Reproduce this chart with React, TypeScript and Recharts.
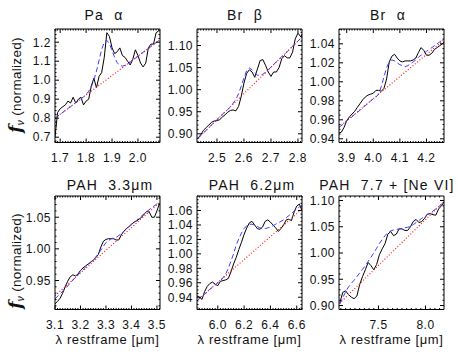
import React from 'react';
import { LineChart, Line, XAxis, YAxis } from 'recharts';

// ---------------- Pa alpha ----------------
const paWave = [1.68,1.69,1.70,1.71,1.72,1.73,1.74,1.75,1.76,1.77,1.78,1.79,1.80,1.81,1.82,1.83,1.84,1.85,1.86,1.87,1.88,1.89,1.90,1.91,1.92,1.93,1.94,1.95,1.96,1.97,1.98,1.99,2.00,2.01,2.02,2.03,2.04,2.05,2.06,2.07,2.08];
const paFlux = [0.70,0.83,0.85,0.86,0.87,0.89,0.88,0.91,0.88,0.90,0.91,0.87,0.89,0.90,0.97,1.01,0.96,1.02,1.04,1.12,1.25,1.23,1.17,1.14,1.15,1.17,1.13,1.12,1.10,1.08,1.11,1.16,1.13,1.09,1.07,1.09,1.17,1.19,1.19,1.25,1.26];
const paModel = [0.800,0.810,0.820,0.831,0.841,0.851,0.861,0.871,0.882,0.892,0.902,0.912,0.925,0.942,0.965,1.000,1.048,1.105,1.162,1.200,1.210,1.192,1.156,1.120,1.092,1.077,1.074,1.078,1.086,1.096,1.106,1.116,1.126,1.137,1.147,1.157,1.167,1.177,1.188,1.198,1.208];
const paContWave = [1.68, 2.085];
const paCont = [0.800, 1.213];

// ---------------- Br beta ----------------
const bbWave = [2.43,2.44,2.45,2.46,2.47,2.48,2.49,2.50,2.51,2.52,2.53,2.54,2.55,2.56,2.57,2.58,2.59,2.60,2.61,2.62,2.63,2.64,2.65,2.66,2.67,2.68,2.69,2.70,2.71,2.72,2.73,2.74,2.75,2.76,2.77,2.78,2.79,2.80,2.81,2.82];
const bbFlux = [0.890,0.898,0.908,0.914,0.920,0.926,0.929,0.930,0.932,0.938,0.943,0.949,0.953,0.954,0.952,0.962,0.985,1.015,1.037,1.045,1.040,1.028,1.047,1.066,1.068,1.055,1.040,1.030,1.040,1.040,1.050,1.070,1.077,1.072,1.072,1.085,1.115,1.128,1.120,1.130];
const bbModel = [0.890,0.896,0.902,0.908,0.914,0.920,0.926,0.932,0.938,0.944,0.950,0.955,0.961,0.969,0.978,0.991,1.008,1.027,1.043,1.049,1.045,1.038,1.033,1.032,1.035,1.039,1.045,1.051,1.057,1.063,1.069,1.075,1.080,1.086,1.092,1.098,1.104,1.110,1.116,1.122];
const bbContWave = [2.43, 2.82];
const bbCont = [0.890, 1.122];

// ---------------- Br alpha ----------------
const baWave = [3.87,3.88,3.89,3.90,3.91,3.92,3.93,3.94,3.95,3.96,3.97,3.98,3.99,4.00,4.01,4.02,4.03,4.04,4.05,4.06,4.07,4.08,4.09,4.10,4.11,4.12,4.13,4.14,4.15,4.16,4.17,4.18,4.19,4.20,4.21,4.22,4.23,4.24,4.25,4.26,4.27];
const baFlux = [0.946,0.947,0.952,0.959,0.963,0.966,0.969,0.973,0.977,0.981,0.984,0.986,0.987,0.988,0.991,0.991,0.990,0.993,1.003,1.021,1.027,1.029,1.025,1.022,1.021,1.022,1.022,1.022,1.023,1.025,1.031,1.036,1.033,1.028,1.028,1.030,1.034,1.036,1.038,1.040,1.043];
const baModel = [0.952,0.954,0.956,0.959,0.961,0.963,0.966,0.968,0.970,0.973,0.975,0.977,0.980,0.982,0.984,0.987,0.995,1.005,1.015,1.021,1.023,1.022,1.020,1.018,1.017,1.016,1.017,1.019,1.021,1.023,1.026,1.028,1.030,1.032,1.034,1.036,1.038,1.040,1.042,1.044,1.046];
const baContWave = [3.87, 4.27];
const baCont = [0.952, 1.045];

// ---------------- PAH 3.3 ----------------
const p33Wave = [3.10,3.11,3.12,3.13,3.14,3.15,3.16,3.17,3.18,3.19,3.20,3.21,3.22,3.23,3.24,3.25,3.26,3.27,3.28,3.29,3.30,3.31,3.32,3.33,3.34,3.35,3.36,3.37,3.38,3.39,3.40,3.41,3.42,3.43,3.44,3.45,3.46,3.47,3.48,3.49,3.50,3.51];
const p33Flux = [0.913,0.917,0.922,0.930,0.940,0.949,0.956,0.959,0.957,0.960,0.966,0.970,0.973,0.976,0.979,0.982,0.986,0.991,1.003,1.012,1.015,1.016,1.016,1.016,1.014,1.014,1.022,1.028,1.032,1.035,1.039,1.042,1.044,1.047,1.050,1.055,1.059,1.058,1.050,1.050,1.060,1.072];
const p33ModelWave = [3.10,3.12,3.14,3.16,3.18,3.20,3.22,3.24,3.26,3.28,3.30,3.32,3.34,3.36,3.38,3.40,3.42,3.44,3.46,3.48,3.50,3.51];
const p33Model = [0.921,0.929,0.937,0.946,0.955,0.963,0.971,0.979,0.987,0.998,1.010,1.016,1.018,1.024,1.031,1.038,1.045,1.052,1.059,1.065,1.071,1.075];
const p33ContWave = [3.10, 3.51];
const p33Cont = [0.926, 1.073];

// ---------------- PAH 6.2 ----------------
const p62Wave = [5.84,5.86,5.88,5.90,5.92,5.94,5.96,5.98,6.00,6.02,6.04,6.06,6.08,6.10,6.12,6.14,6.16,6.18,6.20,6.22,6.24,6.26,6.28,6.30,6.32,6.34,6.36,6.38,6.40,6.42,6.44,6.46,6.48,6.50,6.52,6.54,6.56,6.58,6.60,6.62,6.64];
const p62Flux = [0.942,0.940,0.937,0.948,0.955,0.959,0.961,0.958,0.956,0.962,0.963,0.964,0.966,0.975,0.986,0.995,1.006,1.016,1.027,1.036,1.043,1.045,1.040,1.035,1.034,1.037,1.045,1.047,1.044,1.040,1.036,1.031,1.035,1.040,1.047,1.048,1.046,1.058,1.066,1.069,1.060];
const p62Model = [0.935,0.938,0.941,0.944,0.948,0.951,0.954,0.957,0.960,0.963,0.967,0.972,0.980,0.990,1.000,1.012,1.021,1.029,1.035,1.039,1.041,1.041,1.040,1.038,1.036,1.035,1.035,1.036,1.037,1.039,1.041,1.043,1.045,1.047,1.050,1.053,1.056,1.059,1.062,1.065,1.067];
const p62ContWave = [5.84, 6.64];
const p62Cont = [0.935, 1.062];

// ---------------- PAH 7.7 + [Ne VI] ----------------
const p77Wave = [7.09,7.12,7.15,7.18,7.21,7.24,7.27,7.30,7.33,7.36,7.39,7.42,7.45,7.48,7.51,7.54,7.57,7.60,7.63,7.66,7.69,7.72,7.75,7.78,7.81,7.84,7.87,7.90,7.93,7.96,7.99,8.02,8.05,8.08,8.11,8.14,8.17,8.20];
const p77Flux = [0.906,0.925,0.928,0.921,0.916,0.913,0.918,0.940,0.955,0.968,0.982,0.976,0.968,0.978,0.997,1.008,1.018,1.036,1.041,1.033,1.036,1.046,1.046,1.043,1.043,1.050,1.060,1.064,1.058,1.060,1.066,1.074,1.075,1.073,1.072,1.084,1.090,1.098];
const p77Model = [0.903,0.915,0.926,0.935,0.942,0.948,0.955,0.962,0.969,0.976,0.984,0.992,1.000,1.009,1.018,1.026,1.033,1.039,1.042,1.044,1.045,1.046,1.047,1.048,1.049,1.051,1.054,1.058,1.062,1.066,1.069,1.073,1.076,1.080,1.084,1.088,1.093,1.097];
const p77ContWave = [7.085, 8.197];
const p77Cont = [0.904, 1.098];

// ---------------- titles & tick labels ----------------
const titles = ['Pa  α', 'Br  β', 'Br  α', 'PAH  3.3μm', 'PAH  6.2μm', 'PAH  7.7 + [Ne VI]'];
const paXTicks = [1.7, 1.8, 1.9, 2.0];
const paYTicks = [0.7, 0.8, 0.9, 1.0, 1.1, 1.2];
const bbXTicks = [2.5, 2.6, 2.7, 2.8];
const bbYTicks = [0.90, 0.95, 1.00, 1.05, 1.10];
const baXTicks = [3.9, 4.0, 4.1, 4.2];
const baYTicks = [0.94, 0.96, 0.98, 1.00, 1.02, 1.04];
const p33XTicks = [3.1, 3.2, 3.3, 3.4, 3.5];
const p33YTicks = [0.95, 1.00, 1.05];
const p62XTicks = [6.0, 6.2, 6.4, 6.6];
const p62YTicks = [0.94, 0.96, 0.98, 1.00, 1.02, 1.04, 1.06];
const p77XTicks = [7.5, 8.0];
const p77YTicks = [0.90, 0.95, 1.00, 1.05, 1.10];

const FONT = '"Liberation Sans", Arial, Helvetica, sans-serif';
const TM = 4;

function pairs(xs: number[], ys: number[]) {
  return xs.map((x, i) => ({ x, y: ys[i] }));
}

function minorTicks(dom: number[], step: number): number[] {
  const out: number[] = [];
  const start = Math.ceil(dom[0] / step - 1e-6);
  const end = Math.floor(dom[1] / step + 1e-6);
  for (let k = start; k <= end; k++) out.push(Math.round(k * step * 1e6) / 1e6);
  return out;
}

function isMajor(v: number, majors: number[]) {
  return majors.some((m) => Math.abs(m - v) < 1e-6);
}

function makeTick(side: string, majors: number[], digits: number, showLabel: boolean) {
  return (props: any) => {
    const { x, y, payload } = props;
    const v = payload.value as number;
    const maj = isMajor(v, majors);
    const len = maj ? 4 : 1.5;
    const textProps = { fontFamily: FONT, fontSize: 12, fill: '#111', letterSpacing: 0.5 } as any;
    if (side === 'bottom') {
      const ay = y - TM;
      return (
        <g>
          <line x1={x} x2={x} y1={ay} y2={ay - len} stroke="#000" strokeWidth={1} />
          {maj && showLabel && (
            <text x={x} y={ay + 19} textAnchor="middle" {...textProps}>{v.toFixed(digits)}</text>
          )}
        </g>
      );
    }
    if (side === 'top') {
      const ay = y + TM;
      return <line x1={x} x2={x} y1={ay} y2={ay + len} stroke="#000" strokeWidth={1} />;
    }
    if (side === 'left') {
      const ax = x + TM;
      return (
        <g>
          <line x1={ax} x2={ax + len} y1={y} y2={y} stroke="#000" strokeWidth={1} />
          {maj && showLabel && (
            <text x={ax - 4} y={y + 4.3} textAnchor="end" {...textProps}>{v.toFixed(digits)}</text>
          )}
        </g>
      );
    }
    const ax = x - TM;
    return <line x1={ax} x2={ax - len} y1={y} y2={y} stroke="#000" strokeWidth={1} />;
  };
}

type PanelProps = {
  left: number; top: number; w: number; h: number;
  xDom: number[]; yDom: number[];
  xMajor: number[]; yMajor: number[];
  xMinorStep: number; yMinorStep: number;
  xDigits: number; yDigits: number;
  flux: { x: number; y: number }[];
  model: { x: number; y: number }[];
  cont: { x: number; y: number }[];
};

function Panel(p: PanelProps) {
  const LW = 50, RW = 10, TH = 10, BH = 30;
  const xt = minorTicks(p.xDom, p.xMinorStep);
  const yt = minorTicks(p.yDom, p.yMinorStep);
  return (
    <div style={{ position: 'absolute', left: p.left - LW, top: p.top - TH }}>
      <LineChart width={p.w + LW + RW} height={p.h + TH + BH} margin={{ top: 0, right: 0, bottom: 0, left: 0 }}>
        <XAxis xAxisId="b" type="number" dataKey="x" orientation="bottom" domain={p.xDom} allowDataOverflow
          ticks={xt} interval={0} tickSize={0} tickMargin={TM} height={BH}
          axisLine={{ stroke: '#000', strokeWidth: 1 }} tickLine={false}
          tick={makeTick('bottom', p.xMajor, p.xDigits, true)} />
        <XAxis xAxisId="t" type="number" dataKey="x" orientation="top" domain={p.xDom} allowDataOverflow
          ticks={xt} interval={0} tickSize={0} tickMargin={TM} height={TH}
          axisLine={{ stroke: '#000', strokeWidth: 1 }} tickLine={false}
          tick={makeTick('top', p.xMajor, p.xDigits, false)} />
        <YAxis yAxisId="l" type="number" dataKey="y" orientation="left" domain={p.yDom} allowDataOverflow
          ticks={yt} interval={0} tickSize={0} tickMargin={TM} width={LW}
          axisLine={{ stroke: '#000', strokeWidth: 1 }} tickLine={false}
          tick={makeTick('left', p.yMajor, p.yDigits, true)} />
        <YAxis yAxisId="r" type="number" dataKey="y" orientation="right" domain={p.yDom} allowDataOverflow
          ticks={yt} interval={0} tickSize={0} tickMargin={TM} width={RW}
          axisLine={{ stroke: '#000', strokeWidth: 1 }} tickLine={false}
          tick={makeTick('right', p.yMajor, p.yDigits, false)} />
        <Line data={p.flux} xAxisId="b" yAxisId="l" dataKey="y" type="linear" stroke="#000" strokeWidth={1}
          dot={false} activeDot={false} isAnimationActive={false} />
        <Line data={p.cont} xAxisId="b" yAxisId="l" dataKey="y" type="linear" stroke="#ff1a1a" strokeWidth={1.2}
          strokeDasharray="1 2" dot={false} activeDot={false} isAnimationActive={false} />
        <Line data={p.model} xAxisId="b" yAxisId="l" dataKey="y" type="linear" stroke="#3c3cff" strokeWidth={1}
          strokeDasharray="5 3" dot={false} activeDot={false} isAnimationActive={false} />
      </LineChart>
    </div>
  );
}

const COLS = [55, 197, 339];
const ROWS = [28.5, 195.5];
const PW = 105;
const PH = 113.5;
const titleX = [104, 245, 388, 110, 252, 387];
const titleY = [20, 20, 20, 190, 190, 190];
const yLabelY = [85, 261];

export default function App() {
  const panels: PanelProps[] = [
    { left: COLS[0], top: ROWS[0], w: PW, h: PH, xDom: [1.68, 2.085], yDom: [0.672, 1.2695], xMajor: paXTicks, yMajor: paYTicks,
      xMinorStep: 0.01, yMinorStep: 0.02, xDigits: 1, yDigits: 1,
      flux: pairs(paWave, paFlux), model: pairs(paWave, paModel), cont: pairs(paContWave, paCont) },
    { left: COLS[1], top: ROWS[0], w: PW, h: PH, xDom: [2.426, 2.815], yDom: [0.8803, 1.1374], xMajor: bbXTicks, yMajor: bbYTicks,
      xMinorStep: 0.01, yMinorStep: 0.01, xDigits: 1, yDigits: 2,
      flux: pairs(bbWave, bbFlux), model: pairs(bbWave, bbModel), cont: pairs(bbContWave, bbCont) },
    { left: COLS[2], top: ROWS[0], w: PW, h: PH, xDom: [3.871, 4.266], yDom: [0.9361, 1.0556], xMajor: baXTicks, yMajor: baYTicks,
      xMinorStep: 0.01, yMinorStep: 0.005, xDigits: 1, yDigits: 2,
      flux: pairs(baWave, baFlux), model: pairs(baWave, baModel), cont: pairs(baContWave, baCont) },
    { left: COLS[0], top: ROWS[1], w: PW, h: PH, xDom: [3.1, 3.512], yDom: [0.9042, 1.0835], xMajor: p33XTicks, yMajor: p33YTicks,
      xMinorStep: 0.01, yMinorStep: 0.01, xDigits: 1, yDigits: 2,
      flux: pairs(p33Wave, p33Flux), model: pairs(p33ModelWave, p33Model), cont: pairs(p33ContWave, p33Cont) },
    { left: COLS[1], top: ROWS[1], w: PW, h: PH, xDom: [5.842, 6.64], yDom: [0.923, 1.0801], xMajor: p62XTicks, yMajor: p62YTicks,
      xMinorStep: 0.02, yMinorStep: 0.005, xDigits: 1, yDigits: 2,
      flux: pairs(p62Wave, p62Flux), model: pairs(p62Wave, p62Model), cont: pairs(p62ContWave, p62Cont) },
    { left: COLS[2], top: ROWS[1], w: PW, h: PH, xDom: [7.08, 8.197], yDom: [0.8924, 1.1086], xMajor: p77XTicks, yMajor: p77YTicks,
      xMinorStep: 0.05, yMinorStep: 0.01, xDigits: 1, yDigits: 2,
      flux: pairs(p77Wave, p77Flux), model: pairs(p77Wave, p77Model), cont: pairs(p77ContWave, p77Cont) },
  ];

  return (
    <div style={{ position: 'absolute', left: 0, top: 0, width: 458, height: 356, background: '#fff', overflow: 'hidden' }}>
      {panels.map((p, i) => <Panel key={i} {...p} />)}
      <svg width={458} height={356} style={{ position: 'absolute', left: 0, top: 0, pointerEvents: 'none' }}>
        {titles.map((t, i) => (
          <text key={i} x={titleX[i]} y={titleY[i]} textAnchor="middle" fontFamily={FONT} fontSize={14}
            letterSpacing={1.2} fill="#111" style={{ whiteSpace: 'pre' }}>{t}</text>
        ))}
        {yLabelY.map((cy, i) => (
          <text key={'yl' + i} x={21} y={cy} textAnchor="middle" transform={`rotate(-90, 21, ${cy})`}
            fontFamily={FONT} fontSize={13.5} letterSpacing={0.3} fill="#111">
            <tspan fontStyle="italic" fontWeight="bold" fontSize={17} fontFamily='"DejaVu Serif", serif'>f</tspan>
            <tspan fontSize={10} dy={3} fontStyle="italic">ν</tspan>
            <tspan dy={-3}>{' (normalized)'}</tspan>
          </text>
        ))}
        {COLS.map((c, i) => (
          <text key={'xl' + i} x={c + PW / 2} y={344} textAnchor="middle" fontFamily={FONT} fontSize={13}
            letterSpacing={0.6} fill="#111">λ restframe [μm]</text>
        ))}
      </svg>
    </div>
  );
}
